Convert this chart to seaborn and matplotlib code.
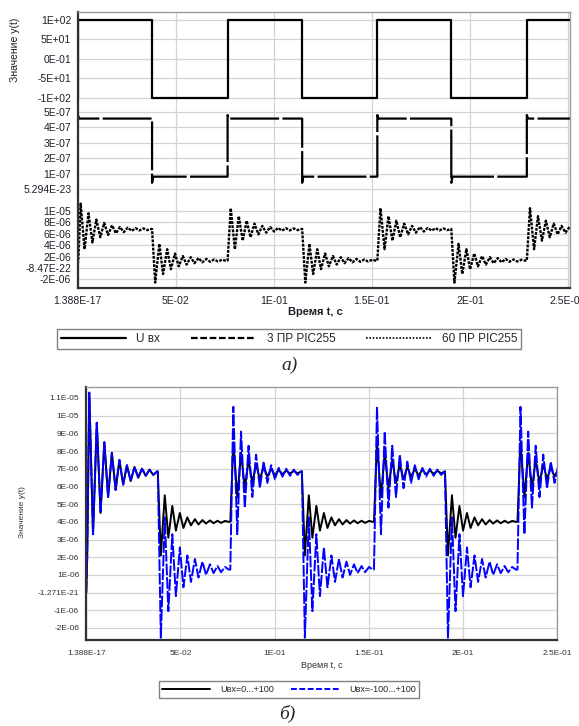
import numpy as np
import pandas as pd
import matplotlib
matplotlib.use('Agg')
import matplotlib.pyplot as plt
import seaborn as sns
from matplotlib.ticker import FixedLocator, FixedFormatter, MultipleLocator
from matplotlib.lines import Line2D

W, H = 579, 726

# switching instants of the input square wave, s
t_fall = [0.038, 0.1145, 0.1905]
t_rise = [0.0765, 0.1528, 0.229]

# U вх, input square wave
u_t = [0.0, 0.0, 0.038, 0.038, 0.0765, 0.0765, 0.1145, 0.1145, 0.1528, 0.1528,
       0.1905, 0.1905, 0.229, 0.229, 0.251]
u_val = [-100, 100, 100, -100, -100, 100, 100, -100, -100, 100, 100, -100, -100, 100, 100]

# 3 ПР PIC255 (x1e-07)
p3_t = [0.0, 0.0, 0.0008, 0.038, 0.038, 0.0386, 0.0765, 0.0765, 0.0771, 0.1145, 0.1145,
        0.1151, 0.1528, 0.1528, 0.1534, 0.1905, 0.1905, 0.1911, 0.229, 0.229, 0.2296, 0.251]
p3_val = [0, 4.9, 4.57, 4.57, 0.4, 0.8, 0.8, 4.8, 4.57, 4.57, 0.4, 0.8, 0.8, 4.8, 4.57,
          4.57, 0.4, 0.8, 0.8, 4.8, 4.57, 4.57]

# oscillating responses (x1e-06), read per switching event
start_dt = [0, 0.0005, 0.0016, 0.0036, 0.0056, 0.0076, 0.0096, 0.0116, 0.0136, 0.0156, 0.0176,
            0.0196, 0.0216, 0.0236, 0.0256, 0.0276, 0.0296, 0.0316, 0.0336, 0.0356, 0.0376]
start_val = [0, 2.0, 11.3, 3.3, 9.6, 4.5, 8.5, 5.4, 7.9, 5.8, 7.5, 6.1, 7.2, 6.3, 7.1, 6.5,
             7.0, 6.6, 6.95, 6.65, 6.85]

rise_dt = [0, 0.0016, 0.0037, 0.0057, 0.0077, 0.0097, 0.0117, 0.0137, 0.0157, 0.0177,
           0.0197, 0.0217, 0.0237, 0.0257, 0.0277, 0.0297, 0.0317, 0.0337, 0.0357, 0.0377]
rise_bipolar = [1.3, 10.5, 3.3, 9.1, 4.8, 8.3, 5.4, 7.8, 5.9, 7.4, 6.2, 7.2, 6.4, 7.05,
                6.55, 7.0, 6.6, 6.95, 6.65, 6.85]
rise_unipolar = [4.0, 8.5, 5.4, 7.9, 5.9, 7.5, 6.2, 7.25, 6.4, 7.1, 6.55, 7.0, 6.62, 6.95,
                 6.68, 6.9, 6.72, 6.88, 6.74, 6.85]

fall_dt = [0, 0.0016, 0.0037, 0.0056, 0.0077, 0.0096, 0.0117, 0.0136, 0.0157, 0.0176,
           0.0197, 0.0216, 0.0237, 0.0256, 0.0277, 0.0296, 0.0317, 0.0336, 0.0357, 0.0376]
fall_bipolar = [6.85, -2.55, 4.25, -1.05, 3.3, -0.2, 2.55, 0.3, 2.1, 0.6, 1.9, 0.85, 1.75,
                1.0, 1.6, 1.1, 1.5, 1.15, 1.45, 1.3]
fall_unipolar = [6.85, 2.1, 5.5, 3.1, 4.9, 3.5, 4.5, 3.65, 4.25, 3.8, 4.15, 3.85, 4.1, 3.9,
                 4.08, 3.92, 4.06, 3.94, 4.05, 4.0]


def build(rise_v, fall_v):
    t, v = list(start_dt), list(start_val)
    for tf, tr in zip(t_fall, t_rise):
        t += [tf + d for d in fall_dt]
        v += list(fall_v)
        t += [tr + d for d in rise_dt]
        v += list(rise_v)
    return pd.DataFrame({'t': t, 'y': np.array(v) * 1e-6})


df_u = pd.DataFrame({'t': u_t, 'y': u_val})
df_p3 = pd.DataFrame({'t': p3_t, 'y': np.array(p3_val) * 1e-7})
df_bi = build(rise_bipolar, fall_bipolar)
df_uni = build(rise_unipolar, fall_unipolar)

sns.set_style('white')
plt.rcParams['font.family'] = ['Liberation Sans', 'DejaVu Sans']

fig = plt.figure(figsize=(W / 100, H / 100), dpi=100)


def rect(x0, y0, x1, y1):
    return [x0 / W, 1 - y1 / H, (x1 - x0) / W, (y1 - y0) / H]


def style(ax, fs, col):
    ax.grid(True, color='#d4d4d4', lw=0.9)
    ax.set_axisbelow(True)
    for s in ['top', 'right']:
        ax.spines[s].set_color('#9a9a9a')
        ax.spines[s].set_linewidth(1.0)
    for s in ['left', 'bottom']:
        ax.spines[s].set_color('#303030')
        ax.spines[s].set_linewidth(1.6)
    ax.tick_params(axis='both', which='major', direction='out', length=3, width=0.8,
                   labelsize=fs, labelcolor=col, color='#606060', pad=1.5)
    ax.tick_params(axis='both', which='minor', direction='out', length=2, width=0.6,
                   color='#606060')
    ax.set_xlabel('')
    ax.set_ylabel('')
    if ax.get_legend():
        ax.get_legend().remove()


# ---------------- chart а) ----------------
ax1 = fig.add_axes(rect(77.5, 12, 570, 101))
ax2 = fig.add_axes(rect(77.5, 101, 570, 193), sharex=ax1)
ax3 = fig.add_axes(rect(77.5, 193, 570, 288), sharex=ax1)

sns.lineplot(data=df_u, x='t', y='y', ax=ax1, estimator=None, sort=False,
             color='black', lw=1.6)
sns.lineplot(data=df_p3, x='t', y='y', ax=ax2, estimator=None, sort=False,
             color='black', lw=1.6, linestyle=(0, (22, 1.5)))
sns.lineplot(data=df_bi, x='t', y='y', ax=ax3, estimator=None, sort=False,
             color='black', lw=1.7, linestyle=(0, (1.2, 0.55)))

for ax in (ax1, ax2, ax3):
    style(ax, 7.5, '#1e1e28')
    ax.set_xlim(0, 0.251)
    ax.xaxis.set_major_locator(FixedLocator([0, 0.05, 0.1, 0.15, 0.2, 0.25]))
    ax.xaxis.set_minor_locator(MultipleLocator(0.0125))

ax1.spines['bottom'].set_visible(False)
ax2.spines['top'].set_visible(False)
ax2.spines['bottom'].set_visible(False)
ax3.spines['top'].set_visible(False)
ax1.tick_params(axis='x', which='both', bottom=False, labelbottom=False)
ax2.tick_params(axis='x', which='both', bottom=False, labelbottom=False)

ax1.set_ylim(-107.7, 120.5)
ax1.yaxis.set_major_locator(FixedLocator([100, 50, 0, -50, -100]))
ax1.yaxis.set_major_formatter(FixedFormatter(['1E+02', '5E+01', '0E-01', '-5E+01', '-1E+02']))
ax1.yaxis.set_minor_locator(MultipleLocator(10))

ax2.set_ylim(-2.6e-8, 5.71e-7)
ax2.yaxis.set_major_locator(FixedLocator([5e-7, 4e-7, 3e-7, 2e-7, 1e-7, 0]))
ax2.yaxis.set_major_formatter(FixedFormatter(['5E-07', '4E-07', '3E-07', '2E-07', '1E-07',
                                              '5.294E-23']))
ax2.yaxis.set_minor_locator(MultipleLocator(2e-8))

ax3.set_ylim(-3.5e-6, 1.316e-5)
ax3.yaxis.set_major_locator(FixedLocator([1e-5, 8e-6, 6e-6, 4e-6, 2e-6, 0, -2e-6]))
ax3.yaxis.set_major_formatter(FixedFormatter(['1E-05', '8E-06', '6E-06', '4E-06', '2E-06',
                                              '-8.47E-22', '-2E-06']))
ax3.yaxis.set_minor_locator(MultipleLocator(5e-7))
ax3.xaxis.set_major_formatter(FixedFormatter(['1.388E-17', '5E-02', '1E-01', '1.5E-01',
                                              '2E-01', '2.5E-01']))
ax3.tick_params(axis='x', pad=3)

fig.text(15 / W, 1 - 50 / H, 'Значение y(t)', rotation=90, ha='center', va='center',
         fontsize=7.5, color='#1e1e28')
fig.text(315 / W, 1 - 312 / H, 'Время t, с', ha='center', va='center',
         fontsize=8, fontweight='bold', color='#1e1e28')

h1 = [Line2D([], [], color='black', lw=1.6),
      Line2D([], [], color='black', lw=1.6, linestyle=(0, (3, 1.2))),
      Line2D([], [], color='black', lw=1.2, linestyle=(0, (1, 1)))]
leg1 = fig.legend(h1, ['U вх', '3 ПР PIC255', '60 ПР PIC255'], loc='center',
                  bbox_to_anchor=(289 / W, 1 - 339 / H), ncol=3, fontsize=8.5,
                  handlelength=5.5, handletextpad=0.9, columnspacing=2.6,
                  fancybox=False, framealpha=1, edgecolor='#808080', borderpad=0.3)
leg1.get_frame().set_linewidth(1.0)

fig.text(290 / W, 1 - 365 / H, 'а)', ha='center', va='center', fontsize=14,
         family=['Liberation Serif', 'DejaVu Serif'], style='italic')

# ---------------- chart б) ----------------
axb = fig.add_axes(rect(85.5, 387, 557, 640))
sns.lineplot(data=df_uni, x='t', y='y', ax=axb, estimator=None, sort=False,
             color='black', lw=1.4)
sns.lineplot(data=df_bi, x='t', y='y', ax=axb, estimator=None, sort=False,
             color='#0000ff', lw=1.4, linestyle=(0, (6, 1.0)))
style(axb, 6, '#333333')
axb.set_xlim(-0.0004, 0.25)
axb.xaxis.set_major_locator(FixedLocator([0, 0.05, 0.1, 0.15, 0.2, 0.25]))
axb.xaxis.set_major_formatter(FixedFormatter(['1.388E-17', '5E-02', '1E-01', '1.5E-01',
                                              '2E-01', '2.5E-01']))
axb.xaxis.set_minor_locator(MultipleLocator(0.0125))
axb.set_ylim(-2.68e-6, 1.162e-5)
yb = [1.1e-5, 1e-5, 9e-6, 8e-6, 7e-6, 6e-6, 5e-6, 4e-6, 3e-6, 2e-6, 1e-6, 0, -1e-6, -2e-6]
yb_lab = ['1.1E-05', '1E-05', '9E-06', '8E-06', '7E-06', '6E-06', '5E-06', '4E-06',
          '3E-06', '2E-06', '1E-06', '-1.271E-21', '-1E-06', '-2E-06']
axb.yaxis.set_major_locator(FixedLocator(yb))
axb.yaxis.set_major_formatter(FixedFormatter(yb_lab))
axb.yaxis.set_minor_locator(MultipleLocator(2e-7))
axb.tick_params(axis='x', pad=4)

fig.text(22 / W, 1 - 512 / H, 'Значение y(t)', rotation=90, ha='center', va='center',
         fontsize=6, color='#333333')
fig.text(322 / W, 1 - 665 / H, 'Время t, с', ha='center', va='center',
         fontsize=6.5, color='#333333')

h2 = [Line2D([], [], color='black', lw=1.4),
      Line2D([], [], color='#0000ff', lw=1.4, linestyle=(0, (3, 1.3)))]
leg2 = fig.legend(h2, ['Uвх=0...+100', 'Uвх=-100...+100'], loc='center',
                  bbox_to_anchor=(289 / W, 1 - 689.5 / H), ncol=2, fontsize=6.5,
                  handlelength=5.3, handletextpad=1.1, columnspacing=1.9,
                  fancybox=False, framealpha=1, edgecolor='#808080', borderpad=0.4)
leg2.get_frame().set_linewidth(1.0)

fig.text(287 / W, 1 - 714 / H, 'б)', ha='center', va='center', fontsize=14,
         family=['Liberation Serif', 'DejaVu Serif'], style='italic')

fig.savefig('out.png', dpi=100)
